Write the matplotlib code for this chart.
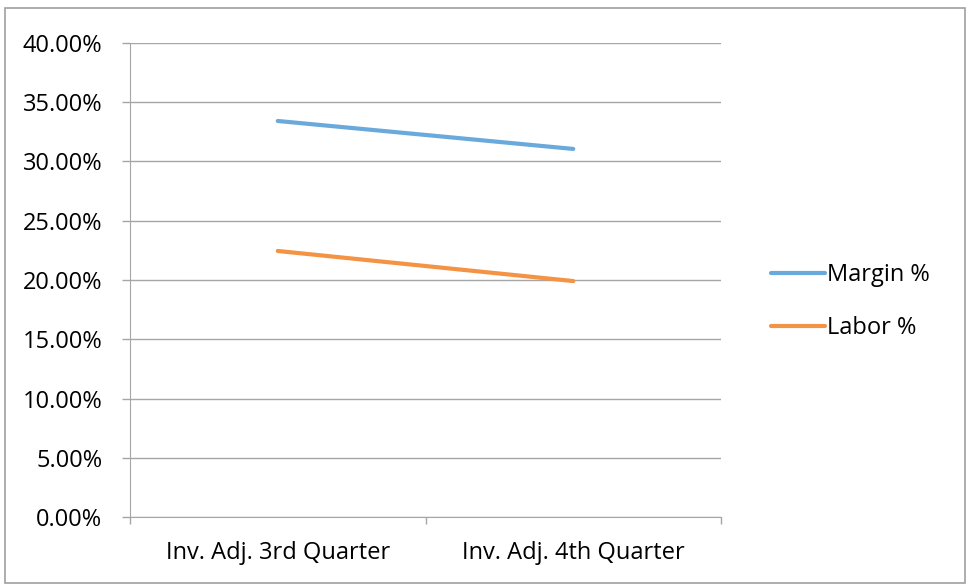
import matplotlib.pyplot as plt
from matplotlib.patches import Rectangle
from matplotlib.ticker import FuncFormatter, MultipleLocator

# data
categories = ['Inv. Adj. 3rd Quarter', 'Inv. Adj. 4th Quarter']
margin_pct = [33.42, 31.06]
labor_pct = [22.45, 19.91]

plt.rcParams['font.family'] = ['Open Sans', 'DejaVu Sans']
grid_col = '#A6A6A6'
fs = 17

fig = plt.figure(figsize=(9.66, 5.85), dpi=100)
fig.patches.append(Rectangle((5 / 966, 1 - 583 / 585), 960 / 966, 575 / 585,
                             transform=fig.transFigure, fill=False,
                             edgecolor='#A0A0A0', linewidth=1.2))

ax = fig.add_axes([130 / 966, 1 - 517 / 585, 591 / 966, 474 / 585])
x = range(len(categories))
ax.plot(x, margin_pct, color='#6AA9DC', linewidth=3, label='Margin %',
        solid_capstyle='round')
ax.plot(x, labor_pct, color='#F39343', linewidth=3, label='Labor %',
        solid_capstyle='round')

ax.set_xlim(-0.5, 1.5)
ax.set_ylim(0, 40)
ax.yaxis.set_major_locator(MultipleLocator(5))
ax.yaxis.set_major_formatter(FuncFormatter(lambda v, p: '%.2f%%' % v))
ax.set_xticks([-0.5, 0.5, 1.5])
ax.set_xticklabels([])
ax.set_xticks(list(x), minor=True)
ax.set_xticklabels(categories, minor=True)
ax.tick_params(axis='x', which='minor', length=0, pad=17, labelsize=fs)
ax.tick_params(axis='x', which='major', length=5, color=grid_col, width=1)
ax.tick_params(axis='y', length=6, color=grid_col, width=1, pad=14, labelsize=fs)

ax.grid(axis='y', color=grid_col, linewidth=1)
ax.set_axisbelow(True)
for s in ['top', 'right']:
    ax.spines[s].set_visible(False)
for s in ['left', 'bottom']:
    ax.spines[s].set_color(grid_col)

fig.legend(loc='upper left', bbox_to_anchor=(762 / 966, 1 - 254 / 585),
           frameon=False, fontsize=fs, handlelength=2.25, handletextpad=0.1,
           labelspacing=1.2, borderaxespad=0)

fig.savefig('out.png', dpi=100)
